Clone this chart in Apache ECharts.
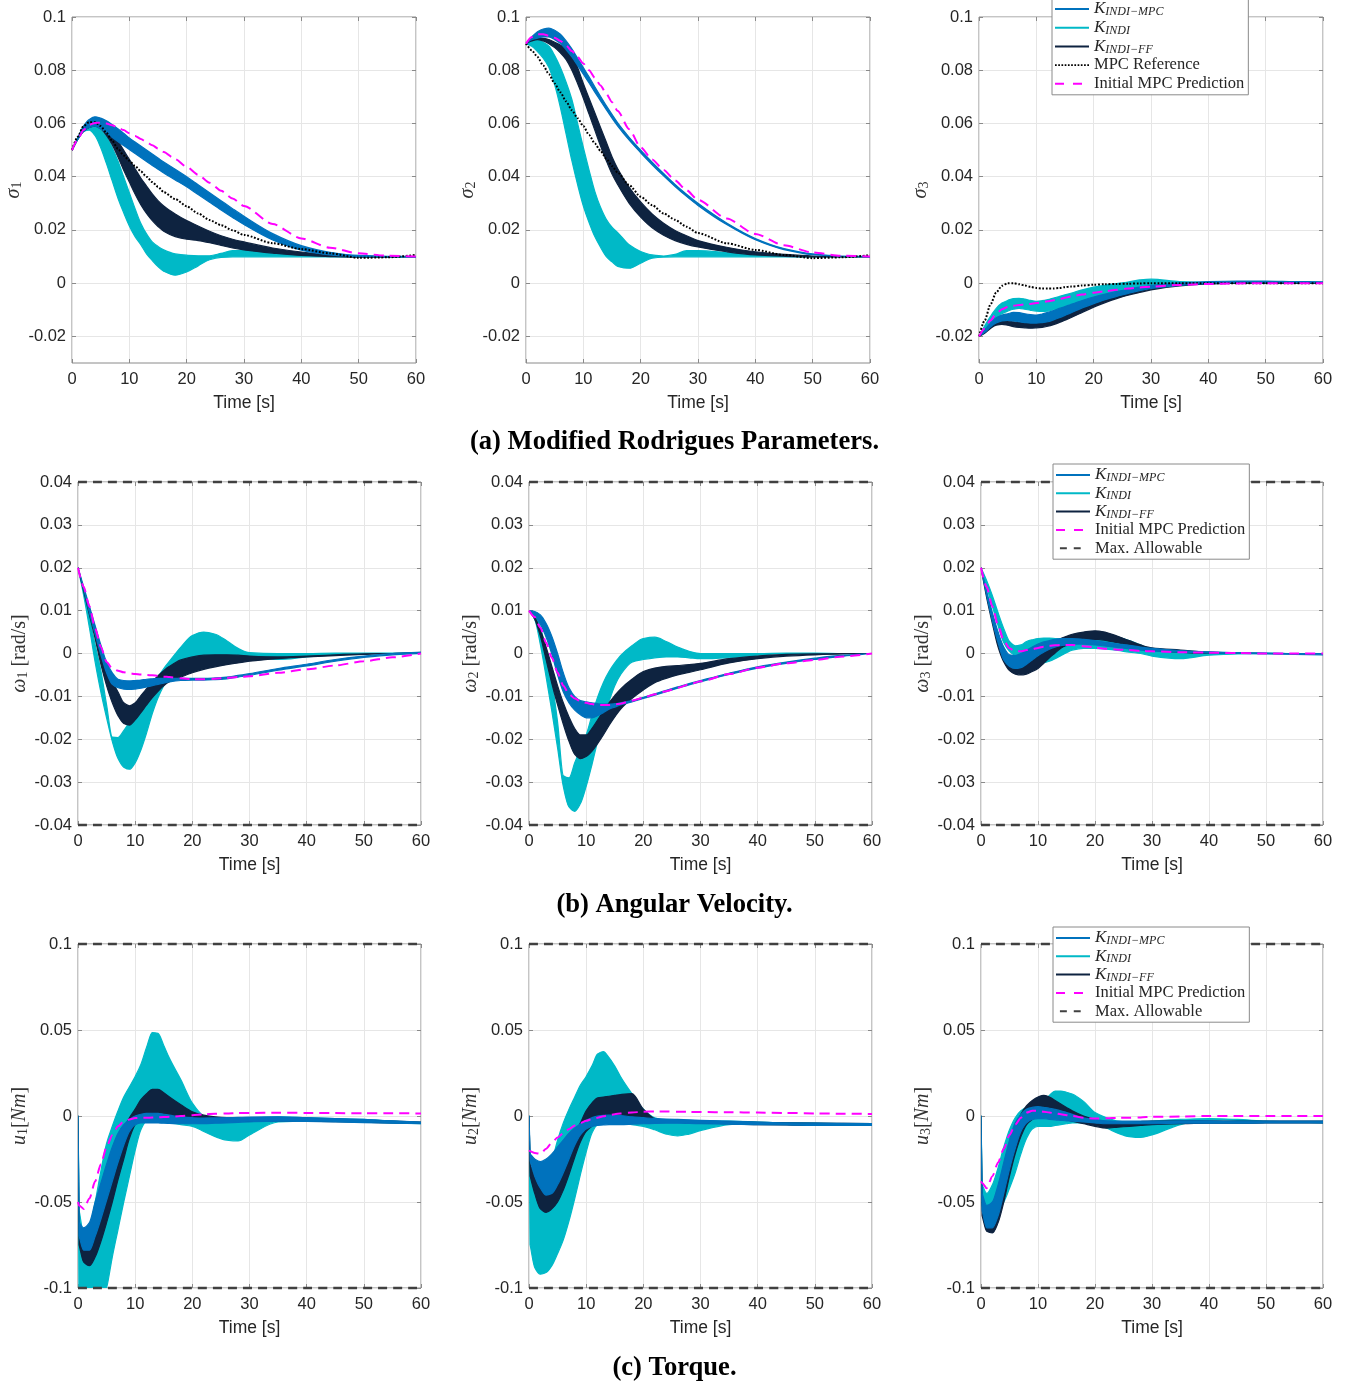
<!DOCTYPE html>
<html>
<head>
<meta charset="utf-8">
<script src="https://cdn.jsdelivr.net/npm/echarts@6/dist/echarts.min.js"></script>
<style>html,body{margin:0;padding:0;background:#fff}#chart{width:1349px;height:1386px}</style>
</head>
<body>
<div id="chart"></div>
<script>
// ---------------- time bases and ticks ----------------
const timeAtt = [0,1,2,3,4,5,6,7,8,9,10,11,12,13,14,15,16,18,20,22,24,26,28,30,35,40,45,50,55,60];
const timeTorque = [0,0.2,1,2,3,4,5,6,7,8,9,10,11,12,13,14,15,16,18,20,22,24,26,28,30,35,40,45,50,55,60];
const timeTicks = [0,10,20,30,40,50,60];
const sigmaTicks = [-0.02,0,0.02,0.04,0.06,0.08,0.1];
const sigmaRange = [-0.03,0.1];
const omegaTicks = [-0.04,-0.03,-0.02,-0.01,0,0.01,0.02,0.03,0.04];
const torqueTicks = [-0.1,-0.05,0,0.05,0.1];
const omegaLimit = [0.04,-0.04];
const torqueLimit = [0.1,-0.1];

// ---------------- sigma 1 ----------------
const sigma1MpcHi = [.05,.0545,.059,.0615,.0625,.062,.061,.0596,.058,.0563,.0545,.053,.0515,.05,.0485,.047,.0455,.0428,.04,.037,.034,.031,.028,.0251,.0186,.0141,.0116,.0104,.0101,.01];
const sigma1MpcLo = [.05,.054,.057,.0585,.059,.058,.0565,.0548,.0532,.0517,.0502,.0487,.0472,.0457,.0442,.0428,.0414,.0388,.0362,.0333,.0304,.0275,.0247,.022,.0162,.0124,.0106,.01,.0099,.0098];
const sigma1IndiHi = [.05,.0545,.058,.0595,.059,.0575,.055,.051,.046,.04,.034,.028,.0225,.0185,.0155,.0138,.0125,.011,.0105,.0103,.0103,.0112,.0122,.0123,.0118,.0108,.0103,.0101,.01,.01];
const sigma1IndiLo = [.05,.054,.057,.0575,.0555,.051,.045,.0385,.032,.0265,.0215,.0175,.0145,.011,.0085,.0062,.0045,.003,.0042,.0065,.0088,.0097,.0099,.0099,.0099,.0099,.0099,.0099,.0099,.0099];
const sigma1FfHi = [.05,.0545,.0585,.0605,.061,.0605,.059,.0565,.0535,.05,.0465,.043,.0395,.0365,.0335,.031,.029,.026,.0235,.0215,.0195,.0178,.0165,.0155,.0132,.0117,.0107,.0102,.01,.01];
const sigma1FfLo = [.05,.054,.057,.0585,.059,.058,.0555,.052,.0475,.0425,.038,.0335,.0295,.0262,.0235,.0213,.0195,.0175,.0165,.016,.0152,.0142,.0132,.0125,.0113,.0104,.01,.0098,.0098,.0099];
const sigma1Ref = [.05,.055,.059,.0605,.0605,.059,.0565,.0535,.0505,.048,.046,.044,.042,.04,.038,.0362,.0342,.0316,.0289,.0262,.0237,.0218,.0199,.0181,.015,.0128,.0112,.0095,.0097,.0106];
const sigma1Pred = [.05,.054,.0575,.0595,.0602,.0603,.06,.0593,.0585,.0575,.0563,.0553,.0542,.053,.0518,.0506,.0493,.0466,.0437,.0407,.0377,.0347,.0318,.029,.0222,.0168,.0133,.0112,.0103,.01];

// ---------------- sigma 2 ----------------
const sigma2MpcHi = [.09,.0925,.0945,.0955,.0958,.095,.0935,.091,.088,.0845,.081,.0775,.0738,.0702,.0667,.0634,.0602,.0548,.05,.0455,.0412,.0371,.0334,.03,.0226,.0168,.013,.011,.0102,.01];
const sigma2MpcLo = [.09,.0915,.092,.0925,.0925,.0915,.09,.0877,.085,.0818,.0785,.0752,.0718,.0685,.0652,.062,.059,.0537,.049,.0445,.0403,.0363,.0326,.0292,.022,.0163,.0126,.0107,.0101,.0099];
const sigma2IndiHi = [.09,.0915,.0915,.0905,.089,.0855,.081,.0755,.069,.06,.051,.0425,.0345,.0285,.024,.021,.019,.0144,.0119,.0106,.0102,.0108,.0122,.0122,.0115,.0106,.0102,.01,.01,.01];
const sigma2IndiLo = [.09,.089,.087,.0845,.081,.0745,.066,.056,.046,.037,.029,.0228,.0175,.0135,.01,.008,.0063,.0056,.0075,.0094,.0098,.0099,.0099,.0099,.0099,.0099,.0099,.0099,.0099,.0099];
const sigma2FfHi = [.09,.0915,.092,.092,.0915,.0905,.0895,.0885,.086,.081,.075,.0695,.064,.0585,.053,.0475,.043,.036,.0305,.026,.0225,.0198,.0178,.016,.0135,.0118,.0108,.0102,.01,.01];
const sigma2FfLo = [.09,.091,.0915,.091,.09,.0885,.0865,.084,.08,.075,.0695,.0635,.0575,.0515,.046,.041,.037,.03,.0248,.0208,.018,.016,.0146,.0136,.0118,.0106,.0101,.0099,.0099,.0099];
const sigma2Ref = [.09,.0875,.085,.0818,.0785,.075,.0717,.0683,.065,.062,.059,.0557,.0525,.0497,.0468,.044,.0415,.0368,.0325,.0293,.0262,.0238,.0212,.0188,.015,.0125,.0106,.0094,.0097,.0105];
const sigma2Pred = [.09,.0925,.0935,.0935,.093,.0922,.091,.0893,.0872,.085,.0825,.08,.0772,.0743,.0712,.068,.0647,.0578,.051,.0465,.0425,.0386,.0349,.0313,.0243,.0185,.0142,.0115,.0103,.01];

// ---------------- sigma 3 ----------------
const sigma3MpcHi = [-.02,-.0175,-.015,-.013,-.012,-.0115,-.011,-.0111,-.0115,-.0118,-.012,-.0116,-.011,-.0103,-.0095,-.0088,-.008,-.0065,-.0052,-.0041,-.0032,-.0023,-.0015,-.0009,0,.0006,.0008,.0008,.0006,.0005];
const sigma3MpcLo = [-.02,-.0185,-.0165,-.015,-.0142,-.014,-.0142,-.0145,-.0148,-.015,-.015,-.0148,-.0145,-.0138,-.013,-.0121,-.0112,-.0093,-.0077,-.0062,-.005,-.0039,-.0028,-.002,-.0008,-.0001,.0003,.0004,.0003,.0002];
const sigma3IndiHi = [-.02,-.016,-.0125,-.0095,-.0075,-.0065,-.0058,-.0057,-.006,-.0065,-.0068,-.0066,-.0062,-.0056,-.005,-.0044,-.0038,-.0025,-.0015,-.0008,-.0002,.0004,.0012,.0015,.0006,.0003,.0002,.0002,.0002,.0002];
const sigma3IndiLo = [-.02,-.0175,-.0155,-.013,-.0115,-.0105,-.0098,-.0095,-.0098,-.0102,-.0105,-.0106,-.0105,-.01,-.0095,-.0089,-.0082,-.007,-.0057,-.0045,-.0035,-.0025,-.0015,-.0008,-.0002,0,0,0,0,0];
const sigma3FfHi = [-.02,-.018,-.0158,-.0145,-.014,-.0142,-.0145,-.0148,-.015,-.015,-.015,-.0146,-.014,-.0133,-.0125,-.0117,-.0108,-.009,-.0073,-.0058,-.0045,-.0035,-.0025,-.0017,-.0006,0,.0002,.0002,.0002,.0002];
const sigma3FfLo = [-.02,-.0188,-.017,-.0158,-.0155,-.0158,-.0163,-.0166,-.0168,-.0169,-.0168,-.0166,-.0162,-.0156,-.0148,-.0139,-.013,-.011,-.009,-.0073,-.0058,-.0045,-.0035,-.0025,-.001,-.0003,0,0,0,0];
const sigma3Ref = [-.02,-.014,-.008,-.0035,-.001,0,0,-.0004,-.0009,-.0014,-.0018,-.002,-.002,-.002,-.0018,-.0015,-.0013,-.0009,-.0006,-.0004,-.0003,-.0002,-.0001,0,0,0,0,0,0,0];
const sigma3Pred = [-.02,-.017,-.014,-.0115,-.0098,-.009,-.0085,-.0082,-.008,-.0078,-.0075,-.0072,-.0068,-.0064,-.006,-.0055,-.005,-.0043,-.0036,-.003,-.0025,-.002,-.0016,-.0013,-.0007,-.0003,-.0001,0,0,0];

// ---------------- omega 1 ----------------
const omega1MpcHi = [.02,.0155,.011,.0065,.002,-.002,-.0045,-.006,-.0063,-.0064,-.0063,-.0062,-.006,-.0059,-.0058,-.0058,-.0058,-.0058,-.0058,-.0058,-.0057,-.0055,-.0051,-.0047,-.0035,-.0025,-.0014,-.0006,0,.0003];
const omega1MpcLo = [.02,.015,.0095,.0045,-.0003,-.0045,-.0072,-.008,-.0083,-.0084,-.0083,-.0081,-.0078,-.0075,-.0072,-.0069,-.0066,-.0063,-.0062,-.0062,-.0061,-.0059,-.0055,-.0051,-.0039,-.0029,-.0018,-.0009,-.0003,0];
const omega1IndiHi = [.02,.0145,.0085,.002,-.004,-.012,-.0195,-.0196,-.018,-.016,-.0138,-.0115,-.0095,-.0075,-.0055,-.0035,-.0018,.0015,.0042,.005,.0045,.003,.0012,.0002,0,0,.0001,.0001,.0001,.0002];
const omega1IndiLo = [.02,.0135,.006,-.002,-.009,-.015,-.0205,-.0245,-.0265,-.027,-.0255,-.0225,-.0185,-.014,-.0103,-.0075,-.0052,-.0022,-.0013,-.0009,-.0006,-.0005,-.0006,-.0009,-.0014,-.0008,-.0003,-.0001,0,0];
const omega1FfHi = [.02,.015,.0105,.006,.001,-.003,-.0065,-.009,-.0115,-.0122,-.0115,-.0098,-.0082,-.0066,-.0052,-.004,-.003,-.0015,-.0008,-.0004,-.0003,-.0003,-.0004,-.0006,-.0008,-.0006,-.0003,-.0001,0,.0002];
const omega1FfLo = [.02,.0145,.009,.0035,-.0025,-.0075,-.0115,-.0145,-.0163,-.0167,-.0155,-.0138,-.012,-.0103,-.0088,-.0075,-.0066,-.0055,-.0045,-.0037,-.0031,-.0026,-.0022,-.0018,-.0012,-.0008,-.0005,-.0002,0,0];
const omega1Pred = [.02,.0155,.011,.0058,.0015,-.002,-.0035,-.004,-.0044,-.0046,-.0048,-.0049,-.005,-.0051,-.0052,-.0054,-.0055,-.0058,-.006,-.006,-.0059,-.0057,-.0055,-.0053,-.0045,-.0037,-.0028,-.0018,-.0009,0];

// ---------------- omega 2 ----------------
const omega2MpcHi = [.01,.0098,.009,.007,.004,0,-.0045,-.008,-.01,-.011,-.0113,-.0115,-.0117,-.0118,-.0118,-.0117,-.0115,-.011,-.0102,-.0094,-.0086,-.0078,-.007,-.0063,-.0046,-.0031,-.002,-.0011,-.0004,0];
const omega2MpcLo = [.01,.0088,.0068,.0038,-.0002,-.005,-.009,-.0115,-.0132,-.0143,-.015,-.015,-.0145,-.0138,-.013,-.0125,-.012,-.0113,-.0105,-.0097,-.0089,-.0081,-.0073,-.0066,-.0049,-.0034,-.0023,-.0014,-.0006,0];
const omega2IndiHi = [.01,.0092,.006,.0005,-.0065,-.016,-.0285,-.029,-.0255,-.0222,-.019,-.0145,-.0102,-.0068,-.0042,-.0022,-.0005,.0018,.0035,.0038,.0028,.0015,.0005,0,0,0,.0001,.0001,0,0];
const omega2IndiLo = [.01,.008,.002,-.0055,-.0135,-.022,-.031,-.0358,-.0368,-.035,-.031,-.026,-.0205,-.0155,-.0112,-.0075,-.005,-.002,-.0014,-.001,-.0008,-.0008,-.001,-.0012,-.001,-.0004,0,0,0,0];
const omega2FfHi = [.01,.0085,.0055,.0015,-.003,-.0075,-.0115,-.0148,-.0175,-.019,-.019,-.0175,-.0155,-.0135,-.0115,-.0098,-.0083,-.006,-.0042,-.0034,-.003,-.0028,-.0026,-.0023,-.0012,-.0006,-.0002,-.0001,0,0];
const omega2FfLo = [.01,.008,.004,-.0015,-.007,-.012,-.0165,-.0205,-.0235,-.0245,-.024,-.0228,-.021,-.019,-.0168,-.0148,-.013,-.0105,-.0085,-.0068,-.0058,-.005,-.0044,-.0038,-.0022,-.0012,-.0006,-.0003,-.0001,0];
const omega2Pred = [.01,.0085,.006,.0025,-.001,-.0045,-.0075,-.0095,-.0105,-.0111,-.0115,-.0118,-.012,-.012,-.012,-.0119,-.0117,-.011,-.0103,-.0095,-.0088,-.008,-.0072,-.0065,-.0048,-.0033,-.0023,-.0015,-.0007,0];

// ---------------- omega 3 ----------------
const omega3MpcHi = [.02,.0145,.0095,.005,.0015,-.0003,-.0005,0,.0008,.0015,.0022,.0027,.003,.0033,.0035,.0035,.0035,.0033,.003,.0026,.0022,.0019,.0015,.0012,.0007,.0004,.0002,.0001,0,0];
const omega3MpcLo = [.02,.0135,.0075,.0025,-.0015,-.003,-.0035,-.0033,-.0025,-.0015,-.0005,.0003,.001,.0015,.0018,.002,.0022,.0022,.002,.0017,.0014,.0011,.0008,.0006,.0003,.0001,0,-.0001,-.0002,-.0003];
const omega3IndiHi = [.02,.017,.0135,.0095,.0058,.0028,.0018,.002,.0028,.0032,.0035,.0036,.0036,.0035,.0034,.0033,.0033,.0038,.0045,.0045,.0039,.003,.002,.001,.0002,0,.0001,.0001,0,0];
const omega3IndiLo = [.02,.0155,.011,.0065,.0025,.0005,-.0005,-.001,-.0018,-.0023,-.0025,-.0022,-.0018,-.0012,-.0005,.0002,.0008,.0012,.0012,.001,.0007,.0003,0,-.0006,-.0012,-.0004,-.0001,0,0,0];
const omega3FfHi = [.02,.0138,.0085,.004,.0005,-.0018,-.0028,-.0028,-.0022,-.0014,-.0005,.0005,.0015,.0025,.0035,.004,.0045,.005,.0053,.0049,.004,.003,.002,.0013,.0008,.0003,.0001,0,0,0];
const omega3FfLo = [.02,.013,.007,.0015,-.002,-.004,-.0048,-.005,-.0048,-.0042,-.0035,-.0023,-.001,.0001,.0012,.0019,.0025,.0032,.0033,.003,.0025,.0019,.0012,.0008,.0003,0,0,0,0,0];
const omega3Pred = [.02,.0155,.011,.0065,.003,.0012,.0005,.0005,.0008,.001,.0013,.0016,.0018,.0019,.002,.002,.002,.0017,.0014,.0011,.0009,.0008,.0006,.0005,.0003,.0002,.0001,0,0,0];

// ---------------- torque 1 ----------------
const u1MpcHi = [0,-.062,-.065,-.062,-.05,-.039,-.028,-.018,-.01,-.005,-.002,0,.001,.0015,.0016,.0015,.001,.0005,-.0005,-.001,-.0012,-.0011,-.001,-.0008,-.0006,-.0005,-.001,-.0015,-.002,-.0028,-.0035];
const u1MpcLo = [0,-.07,-.078,-.078,-.07,-.06,-.049,-.038,-.027,-.017,-.009,-.005,-.004,-.004,-.004,-.004,-.0042,-.0043,-.0045,-.0045,-.0044,-.0042,-.004,-.0037,-.0034,-.003,-.0032,-.0035,-.0038,-.0042,-.0045];
const u1IndiHi = [0,-.055,-.068,-.065,-.05,-.032,-.016,-.006,.003,.011,.017,.023,.03,.04,.0485,.048,.041,.0335,.021,.0075,0,-.002,-.003,-.003,-.0015,-.0005,-.001,-.0015,-.002,-.003,-.004];
const u1IndiLo = [0,-.11,-.12,-.125,-.12,-.11,-.1,-.082,-.066,-.05,-.035,-.02,-.008,-.003,-.003,-.003,-.0035,-.004,-.005,-.006,-.009,-.012,-.014,-.0145,-.011,-.0035,-.003,-.003,-.0035,-.004,-.0045];
const u1FfHi = [0,-.07,-.072,-.072,-.065,-.055,-.043,-.03,-.018,-.008,-.001,.004,.0095,.013,.0155,.0155,.0135,.011,.0065,.0025,.0005,-.0005,-.001,-.0012,-.0012,-.0012,-.0015,-.002,-.0025,-.003,-.0035];
const u1FfLo = [0,-.075,-.085,-.087,-.082,-.073,-.062,-.05,-.037,-.025,-.013,-.005,-.002,-.0005,.0005,.001,0,-.0008,-.002,-.0025,-.003,-.0032,-.0032,-.003,-.003,-.0028,-.003,-.0033,-.0036,-.004,-.0043];
const u1Pred = [-.05,-.052,-.054,-.048,-.038,-.028,-.018,-.011,-.006,-.003,-.002,-.0012,-.001,-.001,-.0009,-.0008,-.0006,-.0005,0,.0005,.001,.0013,.0015,.0017,.0018,.0019,.0018,.0017,.0016,.0016,.0015];

// ---------------- torque 2 ----------------
const u2MpcHi = [0,-.022,-.025,-.0265,-.025,-.022,-.018,-.014,-.01,-.007,-.0045,-.0025,-.001,0,.0004,.0005,.0004,.0003,-.0005,-.001,-.0015,-.0018,-.002,-.0022,-.0025,-.003,-.0035,-.004,-.0042,-.0043,-.0044];
const u2MpcLo = [0,-.026,-.035,-.042,-.046,-.045,-.04,-.033,-.025,-.017,-.011,-.0075,-.006,-.0055,-.0052,-.005,-.005,-.005,-.0048,-.0045,-.0043,-.0042,-.0042,-.0043,-.0045,-.0048,-.005,-.0052,-.0055,-.0055,-.0055];
const u2IndiHi = [0,-.03,-.045,-.05,-.04,-.027,-.014,-.004,.004,.011,.018,.023,.029,.036,.0375,.034,.029,.023,.013,.004,-.001,-.0025,-.003,-.003,-.003,-.003,-.0035,-.004,-.0042,-.0044,-.0045];
const u2IndiLo = [0,-.075,-.088,-.092,-.091,-.087,-.08,-.072,-.061,-.048,-.034,-.021,-.01,-.005,-.0045,-.004,-.004,-.004,-.005,-.006,-.008,-.0105,-.0115,-.0105,-.0085,-.005,-.004,-.0045,-.005,-.005,-.0055];
const u2FfHi = [0,-.028,-.035,-.04,-.042,-.04,-.035,-.027,-.019,-.011,-.004,.003,.0075,.0105,.011,.0115,.012,.0125,.013,.004,-.0015,-.0025,-.003,-.003,-.003,-.0033,-.0037,-.004,-.0042,-.0043,-.0044];
const u2FfLo = [0,-.035,-.045,-.054,-.056,-.054,-.05,-.043,-.034,-.024,-.015,-.009,-.006,-.004,-.0025,-.001,0,0,-.001,-.002,-.0028,-.003,-.0035,-.004,-.004,-.0045,-.005,-.0052,-.0055,-.0055,-.0055];
const u2Pred = [-.02,-.0205,-.0215,-.022,-.019,-.0155,-.0125,-.01,-.0075,-.0055,-.004,-.0028,-.0018,-.001,-.0002,.0005,.001,.0015,.002,.0025,.0026,.0026,.0025,.0024,.0023,.0022,.002,.0018,.0015,.0013,.0012];

// ---------------- torque 3 ----------------
const u3MpcHi = [0,-.045,-.052,-.05,-.04,-.027,-.014,-.004,.001,.004,.005,.0055,.005,.0045,.0038,.003,.002,.001,-.001,-.002,-.0028,-.003,-.003,-.003,-.003,-.0028,-.0028,-.003,-.003,-.003,-.003];
const u3MpcLo = [0,-.055,-.065,-.065,-.058,-.045,-.031,-.019,-.009,-.004,-.002,-.0015,-.0015,-.002,-.0022,-.0025,-.0028,-.003,-.0035,-.004,-.0045,-.0045,-.0045,-.0045,-.0045,-.0042,-.0042,-.0042,-.004,-.004,-.004];
const u3IndiHi = [0,-.04,-.045,-.04,-.03,-.018,-.008,-.001,.003,.005,.006,.007,.009,.012,.0145,.0145,.0138,.0128,.0085,.002,-.001,-.003,-.0035,-.0035,-.003,-.002,-.0015,-.002,-.003,-.0035,-.004];
const u3IndiLo = [0,-.052,-.06,-.058,-.055,-.05,-.042,-.033,-.022,-.013,-.0075,-.006,-.006,-.006,-.0055,-.005,-.0045,-.004,-.004,-.005,-.007,-.01,-.012,-.0125,-.011,-.005,-.002,-.0025,-.003,-.0035,-.004];
const u3FfHi = [0,-.05,-.058,-.056,-.046,-.032,-.018,-.007,.001,.006,.009,.011,.012,.011,.009,.007,.005,.003,0,-.002,-.004,-.004,-.0035,-.0032,-.003,-.0028,-.0028,-.003,-.003,-.003,-.003];
const u3FfLo = [0,-.058,-.067,-.068,-.062,-.05,-.035,-.022,-.012,-.005,-.002,0,.0005,0,-.0008,-.0015,-.0022,-.003,-.0045,-.006,-.007,-.0065,-.006,-.0055,-.005,-.0045,-.0042,-.0042,-.004,-.004,-.004];
const u3Pred = [-.038,-.039,-.042,-.035,-.027,-.019,-.011,-.005,-.001,.002,.003,.003,.0025,.002,.0015,.001,.0005,0,-.001,-.0015,-.0013,-.0011,-.001,-.0008,-.0005,-.0003,0,0,0,0,0];

// ---------------- text ----------------
const rowTitles = ['(a) Modified Rodrigues Parameters.', '(b) Angular Velocity.', '(c) Torque.'];
const NAME_MPC = 'K_INDI-MPC', NAME_INDI = 'K_INDI', NAME_FF = 'K_INDI-FF';
const NAME_REF = 'MPC Reference', NAME_PRED = 'Initial MPC Prediction', NAME_LIM = 'Max. Allowable';

// ---------------- style / layout ----------------
const COL = {mpc:'#0072BD', indi:'#00B9C7', ff:'#0E2340', pred:'#FF00FF', ref:'#000000', lim:'#404040'};
const SANS = '"Liberation Sans", Arial, Helvetica, sans-serif';
const SERIF = '"Liberation Serif", "Times New Roman", serif';
const AXIS_GRAY = '#8a8a8a';
const layout = {
  rowTop: [17, 482, 944], rowH: [346, 343, 344],
  colLeft: [[72,526,979],[78,529,981],[78,529,981]],
  colW: [[344,344,344],[343,343,342],[343,343,342]],
  yNameGap: [44, 47, 47],
  titleY: [442, 905, 1368],
  legendPos: [[1052,-2],[1053,464],[1053,927]],
  legendGap: [0.7, 0.3, 0.3]
};

const rows = [
  { time: timeAtt, ticks: sigmaTicks, range: sigmaRange, limit: null,
    yName: k => `{i|σ}{s|${k}}`,
    legend: [NAME_MPC, NAME_INDI, NAME_FF, NAME_REF, NAME_PRED],
    panels: [
      {mpc:[sigma1MpcLo,sigma1MpcHi], indi:[sigma1IndiLo,sigma1IndiHi], ff:[sigma1FfLo,sigma1FfHi], pred:sigma1Pred, ref:sigma1Ref},
      {mpc:[sigma2MpcLo,sigma2MpcHi], indi:[sigma2IndiLo,sigma2IndiHi], ff:[sigma2FfLo,sigma2FfHi], pred:sigma2Pred, ref:sigma2Ref},
      {mpc:[sigma3MpcLo,sigma3MpcHi], indi:[sigma3IndiLo,sigma3IndiHi], ff:[sigma3FfLo,sigma3FfHi], pred:sigma3Pred, ref:sigma3Ref}
    ]},
  { time: timeAtt, ticks: omegaTicks, range: [omegaTicks[0], omegaTicks[omegaTicks.length-1]], limit: omegaLimit,
    yName: k => `{i|ω}{s|${k}}{r| [rad/s]}`,
    legend: [NAME_MPC, NAME_INDI, NAME_FF, NAME_PRED, NAME_LIM],
    panels: [
      {mpc:[omega1MpcLo,omega1MpcHi], indi:[omega1IndiLo,omega1IndiHi], ff:[omega1FfLo,omega1FfHi], pred:omega1Pred},
      {mpc:[omega2MpcLo,omega2MpcHi], indi:[omega2IndiLo,omega2IndiHi], ff:[omega2FfLo,omega2FfHi], pred:omega2Pred},
      {mpc:[omega3MpcLo,omega3MpcHi], indi:[omega3IndiLo,omega3IndiHi], ff:[omega3FfLo,omega3FfHi], pred:omega3Pred}
    ]},
  { time: timeTorque, ticks: torqueTicks, range: [torqueTicks[0], torqueTicks[torqueTicks.length-1]], limit: torqueLimit,
    yName: k => `{i|u}{s|${k}}{r|[}{i|Nm}{r|]}`,
    legend: [NAME_MPC, NAME_INDI, NAME_FF, NAME_PRED, NAME_LIM],
    panels: [
      {mpc:[u1MpcLo,u1MpcHi], indi:[u1IndiLo,u1IndiHi], ff:[u1FfLo,u1FfHi], pred:u1Pred},
      {mpc:[u2MpcLo,u2MpcHi], indi:[u2IndiLo,u2IndiHi], ff:[u2FfLo,u2FfHi], pred:u2Pred},
      {mpc:[u3MpcLo,u3MpcHi], indi:[u3IndiLo,u3IndiHi], ff:[u3FfLo,u3FfHi], pred:u3Pred}
    ]}
];

// legend icons (line samples)
function dotsPath() {
  let p = 'path://';
  for (let x = 0; x < 34; x += 3.4) p += `M${x.toFixed(1)},0h1.8v2h-1.8Z `;
  return p + 'M34,2';
}
const legendIcon = {};
legendIcon[NAME_MPC] = 'path://M0,0H34V2H0Z';
legendIcon[NAME_INDI] = 'path://M0,0H34V2H0Z';
legendIcon[NAME_FF] = 'path://M0,0H34V2H0Z';
legendIcon[NAME_REF] = dotsPath();
legendIcon[NAME_PRED] = 'path://M0,0H9V2H0Z M18,0H27V2H18Z M34,2';
legendIcon[NAME_LIM] = 'path://M0,0H9V2.6H0Z M18,0H27V2.6H18Z M34,2.6';
const legendColor = {};
legendColor[NAME_MPC] = COL.mpc; legendColor[NAME_INDI] = COL.indi; legendColor[NAME_FF] = COL.ff;
legendColor[NAME_REF] = COL.ref; legendColor[NAME_PRED] = COL.pred; legendColor[NAME_LIM] = COL.lim;

function legendFormatter(name) {
  if (name.indexOf('K_') === 0) return `{k|K}{s|${name.slice(2).replace('-', '\u2212')}}`;
  return `{t|${name}}`;
}

// monotone cubic (Fritsch-Butland) bezier segments through pixel points sorted by x
function monoSegments(pts) {
  const n = pts.length, d = [], h = [], m = new Array(n);
  for (let i = 0; i < n - 1; i++) {
    h[i] = pts[i+1][0] - pts[i][0];
    d[i] = h[i] > 1e-9 ? (pts[i+1][1] - pts[i][1]) / h[i] : 0;
  }
  m[0] = d[0]; m[n-1] = d[n-2];
  for (let i = 1; i < n - 1; i++) {
    if (h[i-1] < 2 || h[i] < 2) m[i] = (d[i-1]*d[i] > 0) ? Math.min(Math.abs(d[i-1]), Math.abs(d[i])) * Math.sign(d[i]) : 0;
    else if (d[i-1] * d[i] <= 0) m[i] = 0;
    else {
      const w1 = 2*h[i] + h[i-1], w2 = h[i] + 2*h[i-1];
      m[i] = (w1 + w2) / (w1 / d[i-1] + w2 / d[i]);
    }
  }
  const segs = [];
  for (let i = 0; i < n - 1; i++) {
    const p1 = pts[i], p2 = pts[i+1], dx = h[i] / 3;
    if (h[i] < 2) { segs.push([p1, p1, p2, p2]); continue; }
    segs.push([p1, [p1[0] + dx, p1[1] + m[i] * dx], [p2[0] - dx, p2[1] - m[i+1] * dx], p2]);
  }
  return segs;
}
const f = v => v.toFixed(2);

function bandSeries(time, lo, hi, color, name, g) {
  return {
    type: 'custom', name, xAxisIndex: 2*g, yAxisIndex: 2*g, clip: true, z: 2, silent: true,
    itemStyle: {color},
    data: time.map((t, i) => [t, lo[i], hi[i]]),
    encode: {x: 0, y: [1, 2]},
    renderItem: (params, api) => {
      if (params.dataIndexInside !== 0) return null;
      const n = params.dataInsideLength;
      const up = [], dn = [];
      for (let i = 0; i < n; i++) {
        up.push(api.coord([api.value(0, i), api.value(2, i)]));
        dn.push(api.coord([api.value(0, i), api.value(1, i)]));
      }
      const su = monoSegments(up), sd = monoSegments(dn);
      let p = `M${f(up[0][0])},${f(up[0][1])}`;
      su.forEach(s => { p += `C${f(s[1][0])},${f(s[1][1])},${f(s[2][0])},${f(s[2][1])},${f(s[3][0])},${f(s[3][1])}`; });
      p += `L${f(dn[n-1][0])},${f(dn[n-1][1])}`;
      for (let k = sd.length - 1; k >= 0; k--) {
        const s = sd[k];
        p += `C${f(s[2][0])},${f(s[2][1])},${f(s[1][0])},${f(s[1][1])},${f(s[0][0])},${f(s[0][1])}`;
      }
      p += 'Z';
      return {type: 'path', shape: {pathData: p}, style: {fill: color, stroke: color, lineWidth: 1.2, lineJoin: 'round'}};
    }
  };
}

function lineSeries(time, vals, name, color, width, dash, g, z, clip) {
  return {
    type: 'line', name, xAxisIndex: 2*g, yAxisIndex: 2*g, z, silent: true,
    data: time.map((t, i) => [t, vals[i]]),
    symbol: 'none', showSymbol: false, smooth: 0.25, smoothMonotone: 'x', clip: clip !== false,
    lineStyle: {color, width, type: dash, cap: 'butt'}, itemStyle: {color}
  };
}

const grids = [], xAxes = [], yAxes = [], series = [], legends = [], titles = [];
const tickStyle = {show: true, inside: true, length: 4, lineStyle: {color: AXIS_GRAY, width: 1}};
const labelStyle = {color: '#262626', fontFamily: SANS, fontSize: 16.5};
const noLine = {show: false, onZero: false};

rows.forEach((row, r) => {
  const tickStep = row.ticks[1] - row.ticks[0];
  row.panels.forEach((p, c) => {
    const g = grids.length;
    grids.push({left: layout.colLeft[r][c], top: layout.rowTop[r], width: layout.colW[r][c], height: layout.rowH[r],
      show: true, borderColor: AXIS_GRAY, borderWidth: 1, backgroundColor: '#fff', containLabel: false, outerBoundsMode: 'none'});
    const xBase = {gridIndex: g, type: 'value', min: timeTicks[0], max: timeTicks[timeTicks.length-1], interval: timeTicks[1]-timeTicks[0]};
    xAxes.push(Object.assign({}, xBase, {position: 'bottom', axisLine: noLine, axisTick: tickStyle,
      axisLabel: Object.assign({margin: 8}, labelStyle),
      splitLine: {show: true, lineStyle: {color: '#e6e6e6', width: 1}},
      name: 'Time [s]', nameLocation: 'middle', nameGap: 31,
      nameTextStyle: {color: '#262626', fontFamily: SANS, fontSize: 17.5}}));
    xAxes.push(Object.assign({}, xBase, {position: 'top', axisLine: noLine, axisTick: tickStyle,
      axisLabel: {show: false}, splitLine: {show: false}}));
    const yBase = {gridIndex: g, type: 'value', min: row.range[0], max: row.range[1]};
    if (row.ticks[0] === row.range[0]) yBase.interval = tickStep;
    yAxes.push(Object.assign({}, yBase, {position: 'left', axisLine: noLine,
      axisTick: Object.assign({customValues: row.ticks}, tickStyle),
      axisLabel: Object.assign({margin: 6, customValues: row.ticks}, labelStyle),
      splitLine: {show: true, lineStyle: {color: '#e6e6e6', width: 1}},
      name: row.yName(c + 1), nameLocation: 'middle', nameGap: layout.yNameGap[r], nameRotate: 90,
      nameTextStyle: {color: '#333', fontFamily: SERIF, fontSize: 20, rich: {
        i: {fontFamily: SERIF, fontStyle: 'italic', fontSize: 20, lineHeight: 22, color: '#333'},
        s: {fontFamily: SERIF, fontSize: 14, lineHeight: 12, verticalAlign: 'bottom', color: '#333'},
        r: {fontFamily: SERIF, fontSize: 20, lineHeight: 22, color: '#333'}
      }}}));
    yAxes.push(Object.assign({}, yBase, {position: 'right', axisLine: noLine,
      axisTick: Object.assign({customValues: row.ticks}, tickStyle),
      axisLabel: {show: false}, splitLine: {show: false}}));

    series.push(bandSeries(row.time, p.indi[0], p.indi[1], COL.indi, NAME_INDI, g));
    series.push(bandSeries(row.time, p.ff[0], p.ff[1], COL.ff, NAME_FF, g));
    series.push(bandSeries(row.time, p.mpc[0], p.mpc[1], COL.mpc, NAME_MPC, g));
    if (p.ref) series.push(lineSeries(row.time, p.ref, NAME_REF, COL.ref, 2, [1.8, 1.7], g, 4));
    series.push(lineSeries(row.time, p.pred, NAME_PRED, COL.pred, 2, [10, 6], g, 5));
    if (row.limit) {
      const span = [timeTicks[0], timeTicks[timeTicks.length-1]];
      row.limit.forEach(lim => series.push(lineSeries(span, span.map(() => lim), NAME_LIM, COL.lim, 2.6, [9, 6], g, 6, false)));
    }
  });

  titles.push({text: rowTitles[r], left: 'center', top: layout.titleY[r] - 13, padding: 0,
    textStyle: {fontFamily: SERIF, fontWeight: 'bold', fontSize: 26.6, color: '#000'}});

  legends.push({
    orient: 'vertical', left: layout.legendPos[r][0], top: layout.legendPos[r][1],
    itemWidth: 34, itemHeight: 2, itemGap: layout.legendGap[r], padding: [2, 4, 2, 3],
    backgroundColor: '#fff', borderColor: AXIS_GRAY, borderWidth: 1, z: 20, selectedMode: false,
    itemStyle: {borderWidth: 0},
    formatter: legendFormatter,
    textStyle: {color: '#262626', fontFamily: SERIF, fontSize: 16.5, lineHeight: 18, rich: {
      k: {fontFamily: SERIF, fontStyle: 'italic', fontSize: 17, lineHeight: 18, color: '#262626'},
      s: {fontFamily: SERIF, fontStyle: 'italic', fontSize: 12, lineHeight: 10, verticalAlign: 'bottom', color: '#262626'},
      t: {fontFamily: SERIF, fontSize: 16.5, lineHeight: 18, color: '#262626'}
    }},
    data: row.legend.map(name => ({name, icon: legendIcon[name], itemStyle: {color: legendColor[name], borderWidth: 0}}))
  });
});

const chart = echarts.init(document.getElementById('chart'), null, {renderer: 'canvas', width: 1349, height: 1386});
chart.setOption({
  animation: false,
  backgroundColor: '#fff',
  title: titles,
  legend: legends,
  grid: grids,
  xAxis: xAxes,
  yAxis: yAxes,
  series: series
});
</script>
</body>
</html>
